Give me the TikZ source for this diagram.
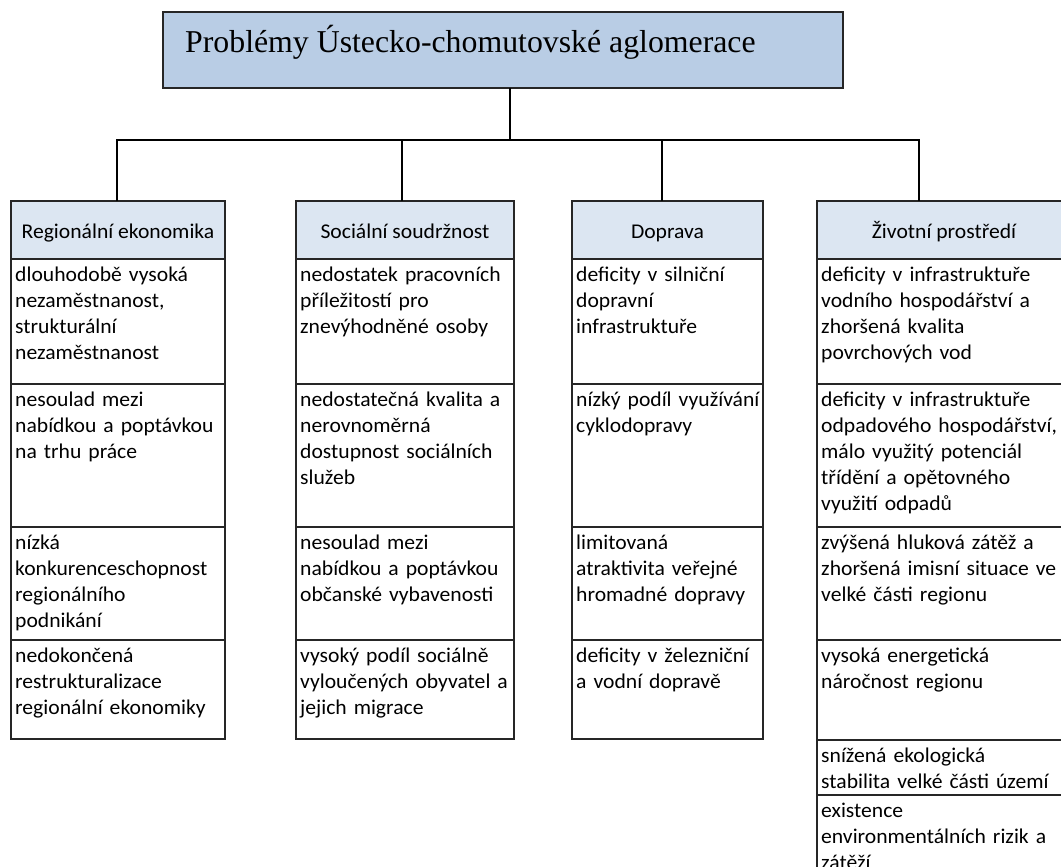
\documentclass[tikz,border=0pt]{standalone}
\usepackage{fontspec}
\setmainfont[FakeStretch=1.03]{Carlito}
\newfontfamily\titlefont{Liberation Serif}
\usepackage{xcolor}
\usepackage{tikz}
\usetikzlibrary{positioning}
\definecolor{titleblue}{HTML}{B9CDE5}
\definecolor{headblue}{HTML}{DCE6F2}

\begin{document}
\begin{tikzpicture}[x=1pt, y=-1pt, font=\fontsize{21}{26}\selectfont,
  box/.style={draw=black!85, line width=1.5pt, outer sep=0pt, inner sep=0pt},
  top/.style={box, fill=titleblue, anchor=north west,
              minimum width=680pt, minimum height=76pt},
  head/.style={box, fill=headblue, anchor=north west, minimum height=58pt,
               text height=16pt, text depth=0pt},
  cell/.style={box, below=0pt of #1},
  txt/.style={anchor=base west, inner sep=0pt, text width=300pt, align=left},
  conn/.style={line width=1.5pt}]
\useasboundingbox (0,0) rectangle (1061,867);
\clip (0,0) rectangle (1061,867);

\node[top] (top) at (163,12) {};
\node[anchor=base west, inner sep=0pt, font=\titlefont\fontsize{31.8}{36}\selectfont]
  (ttl) at ([shift={(22,40.5)}]top.north west) {Problémy Ústecko-chomutovské aglomerace};

\node[head, minimum width=214pt] (h1) at (11,201) {Regionální ekonomika};
\node[head, minimum width=218pt] (h2) at (296,201) {Sociální soudržnost};
\node[head, minimum width=191pt] (h3) at (572,201) {Doprava};
\node[head, minimum width=254pt] (h4) at (817,201) {Životní prostředí};

\node[cell=h1, minimum width=214pt, minimum height=125pt] (c11) {};
\node[cell=c11, minimum width=214pt, minimum height=143pt] (c12) {};
\node[cell=c12, minimum width=214pt, minimum height=113pt] (c13) {};
\node[cell=c13, minimum width=214pt, minimum height=99pt] (c14) {};

\node[cell=h2, minimum width=218pt, minimum height=125pt] (c21) {};
\node[cell=c21, minimum width=218pt, minimum height=143pt] (c22) {};
\node[cell=c22, minimum width=218pt, minimum height=113pt] (c23) {};
\node[cell=c23, minimum width=218pt, minimum height=99pt] (c24) {};

\node[cell=h3, minimum width=191pt, minimum height=125pt] (c31) {};
\node[cell=c31, minimum width=191pt, minimum height=143pt] (c32) {};
\node[cell=c32, minimum width=191pt, minimum height=113pt] (c33) {};
\node[cell=c33, minimum width=191pt, minimum height=99pt] (c34) {};

\node[cell=h4, minimum width=254pt, minimum height=125pt] (c41) {};
\node[cell=c41, minimum width=254pt, minimum height=143pt] (c42) {};
\node[cell=c42, minimum width=254pt, minimum height=113pt] (c43) {};
\node[cell=c43, minimum width=254pt, minimum height=100pt] (c44) {};
\node[cell=c44, minimum width=254pt, minimum height=55pt] (c45) {};
\node[cell=c45, minimum width=254pt, minimum height=90pt] (c46) {};

\node[txt] (t11) at ([shift={(4,22)}]c11.north west) {dlouhodobě vysoká\\nezaměstnanost,\\strukturální\\nezaměstnanost};
\node[txt] (t12) at ([shift={(4,22)}]c12.north west) {nesoulad mezi\\nabídkou a poptávkou\\na trhu práce};
\node[txt] (t13) at ([shift={(4,22)}]c13.north west) {nízká\\konkurenceschopnost\\regionálního\\podnikání};
\node[txt] (t14) at ([shift={(4,22)}]c14.north west) {nedokončená\\restrukturalizace\\regionální ekonomiky};

\node[txt] (t21) at ([shift={(4,22)}]c21.north west) {nedostatek pracovních\\příležitostí pro\\znevýhodněné osoby};
\node[txt] (t22) at ([shift={(4,22)}]c22.north west) {nedostatečná kvalita a\\nerovnoměrná\\dostupnost sociálních\\služeb};
\node[txt] (t23) at ([shift={(4,22)}]c23.north west) {nesoulad mezi\\nabídkou a poptávkou\\občanské vybavenosti};
\node[txt] (t24) at ([shift={(4,22)}]c24.north west) {vysoký podíl sociálně\\vyloučených obyvatel a\\jejich migrace};

\node[txt] (t31) at ([shift={(4,22)}]c31.north west) {deficity v silniční\\dopravní\\infrastruktuře};
\node[txt] (t32) at ([shift={(4,22)}]c32.north west) {nízký podíl využívání\\cyklodopravy};
\node[txt] (t33) at ([shift={(4,22)}]c33.north west) {limitovaná\\atraktivita veřejné\\hromadné dopravy};
\node[txt] (t34) at ([shift={(4,22)}]c34.north west) {deficity v železniční\\a vodní dopravě};

\node[txt] (t41) at ([shift={(4,22)}]c41.north west) {deficity v infrastruktuře\\vodního hospodářství a\\zhoršená kvalita\\povrchových vod};
\node[txt] (t42) at ([shift={(4,22)}]c42.north west) {deficity v infrastruktuře\\odpadového hospodářství,\\málo využitý potenciál\\třídění a opětovného\\využití odpadů};
\node[txt] (t43) at ([shift={(4,22)}]c43.north west) {zvýšená hluková zátěž a\\zhoršená imisní situace ve\\velké části regionu};
\node[txt] (t44) at ([shift={(4,22)}]c44.north west) {vysoká energetická\\náročnost regionu};
\node[txt] (t45) at ([shift={(4,22)}]c45.north west) {snížená ekologická\\stabilita velké části území};
\node[txt] (t46) at ([shift={(4,22)}]c46.north west) {existence\\environmentálních rizik a\\zátěží};

\coordinate (bus) at (510,140);
\coordinate (d1) at (117,140);
\coordinate (d2) at (402,140);
\coordinate (d3) at (662,140);
\coordinate (d4) at (919,140);
\draw[conn] (top.south -| bus) -- (bus);
\draw[conn] (d1 |- h1.north) -- (d1) -- (d4) -- (d4 |- h4.north);
\draw[conn] (d2) -- (d2 |- h2.north);
\draw[conn] (d3) -- (d3 |- h3.north);
\end{tikzpicture}
\end{document}
